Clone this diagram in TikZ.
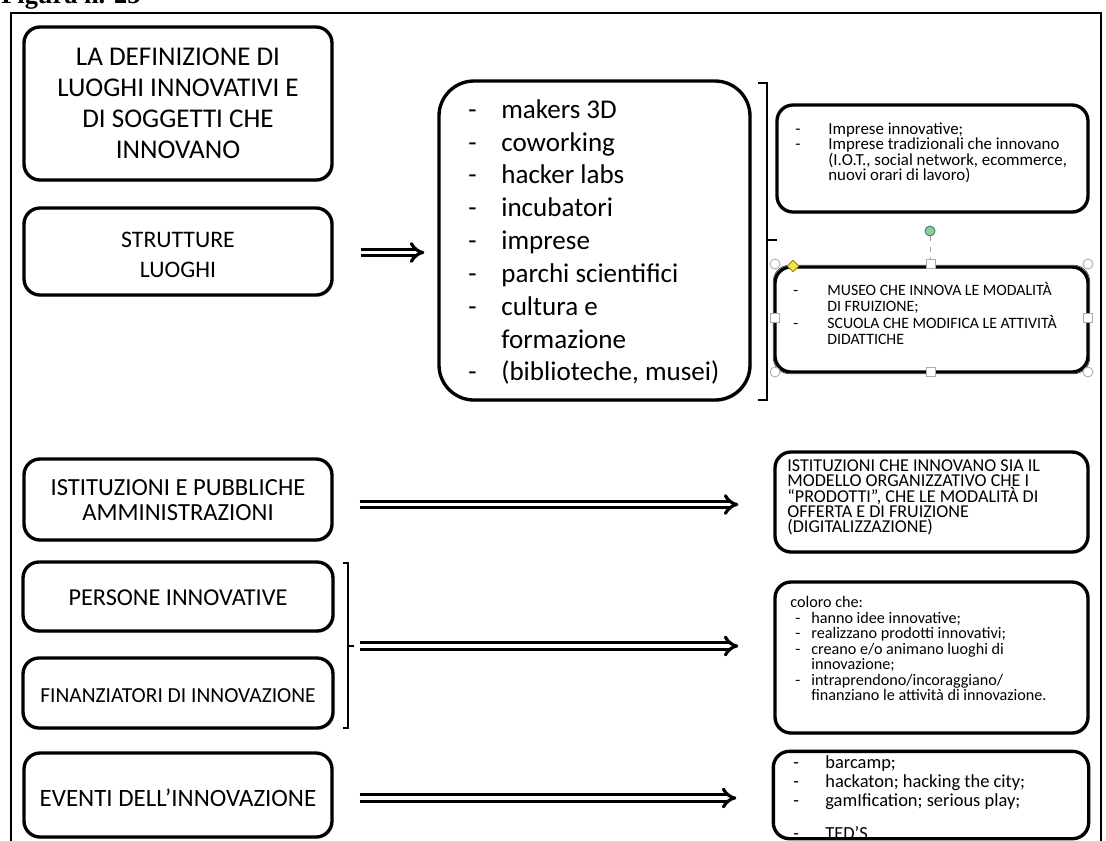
\documentclass[tikz,border=0pt]{standalone}
\usepackage{fontspec}
\setmainfont{Carlito}
\newfontfamily\figfont{Liberation Serif}
\usetikzlibrary{arrows.meta,fit,shadows,shapes.geometric}
\newlength\dashw
\newlength\dashoff
\setlength\dashoff{0pt}
% one dashed list entry with hanging indent
\newcommand\li[1]{\hangindent=\dashw\hangafter=1\noindent\makebox[\dashw][l]{\hspace*{\dashoff}-}#1\par}
\newcommand\tightspace{\spaceskip=.226em\relax\hyphenpenalty=10000\relax}
\begin{document}
\begin{tikzpicture}[x=0.02cm,y=-0.02cm,
  box/.style={draw=black,line width=1.9pt,rounded corners=0.32cm,fill=white,inner sep=0pt,
    drop shadow={opacity=0.35,shadow xshift=0.8pt,shadow yshift=-1pt}},
  ltext/.style={anchor=north,inner sep=0pt,align=center,text width=6cm,text=black,
    execute at begin node={\centering\tightspace}},
  listtext/.style={anchor=north west,inner sep=0pt,align=left,text=black},
  dbl/.style={line width=1.8pt,double=white,double distance=2pt,-{Implies}},
  bracket/.style={draw=black,line width=1.1pt},
  handlec/.style={circle,draw=gray!65,fill=white,line width=0.5pt,minimum size=0.2cm,inner sep=0pt},
  handles/.style={rectangle,draw=gray!65,fill=white,line width=0.5pt,minimum size=0.18cm,inner sep=0pt}
]
\useasboundingbox (0,0) rectangle (1106,840);

% caption, cut by the top edge
\node[anchor=base west,inner sep=0pt,font={\figfont\bfseries\fontsize{15}{17}\selectfont}] (fig) at (1,3) {Figura n. 25};

% outer frame
\draw[line width=1.2pt] (11,850) -- (11,13) -- (1101,13) -- (1101,850);

% left column
\node[box,fit={(24,27)(332,180)}] (title) {};
\node[ltext,font=\fontsize{15.4}{17.5}\selectfont] (titletxt) at (178,48)
  {LA DEFINIZIONE DI\par LUOGHI INNOVATIVI E\par DI SOGGETTI CHE\par INNOVANO\par};
\node[box,fit={(24,208)(332,295)}] (strutture) {};
\node[ltext,font=\fontsize{13.5}{17}\selectfont] (strutturetxt) at (178,232)
  {STRUTTURE\par LUOGHI\par};
\node[box,fit={(24,459)(332,540)}] (istl) {};
\node[ltext,font=\fontsize{14}{14.2}\selectfont] (istltxt) at (178,479)
  {ISTITUZIONI E PUBBLICHE\par AMMINISTRAZIONI\par};
\node[box,fit={(23,562)(333,631)}] (persone) {};
\node[ltext,font=\fontsize{13.8}{14.4}\selectfont] (personetxt) at (178,589)
  {PERSONE INNOVATIVE\par};
\node[box,fit={(23,658)(333,728)}] (finanz) {};
\node[ltext,font=\fontsize{12.2}{14}\selectfont] (finanztxt) at (178,688)
  {FINANZIATORI DI INNOVAZIONE\par};
\node[box,fit={(24,753)(332,837)}] (eventi) {};
\node[ltext,font=\fontsize{14.2}{14.4}\selectfont] (eventitxt) at (178,789)
  {EVENTI DELL’INNOVAZIONE\par};

% list of places
\node[box,rounded corners=0.7cm,fit={(439,81)(750,400)}] (mid) {};
\node[listtext,text width=5.6cm,font=\fontsize{15.4}{18.7}\selectfont] (midtxt) at (468,99)
  {\tightspace\setlength\dashw{0.66cm}%
   \li{makers 3D}\li{coworking}\li{hacker labs}\li{incubatori}\li{imprese}%
   \li{parchi scientifici}\li{cultura e\newline formazione}\li{(biblioteche, musei)}};

% right column
\node[box,fit={(777,105)(1088,212)}] (imprese) {};
\node[listtext,text width=5.9cm,font=\fontsize{9.6}{8.85}\selectfont] (impresetxt) at (795,122)
  {\tightspace\setlength\dashw{0.66cm}%
   \li{Imprese innovative;}\li{Imprese tradizionali che innovano\newline (I.O.T., social network, ecommerce,\newline nuovi orari di lavoro)}};

\node[box,fit={(775,267)(1088,372)}] (museo) {};
\draw[draw={rgb,255:red,70;green,85;blue,110},line width=0.5pt,rounded corners=0.32cm]
  (museo.north west) rectangle (museo.south east);
\node[listtext,text width=5.8cm,font=\fontsize{9}{9.35}\selectfont] (museotxt) at (793,282)
  {\tightspace\setlength\dashw{0.68cm}%
   \li{MUSEO CHE INNOVA LE MODALITÀ\newline DI FRUIZIONE;}\li{SCUOLA CHE MODIFICA LE ATTIVITÀ\newline DIDATTICHE}};

% selection handles round the museum box
\draw[gray!70,dashed,line width=0.5pt] (930,236) -- (930,261);
\node[circle,draw={rgb,255:red,60;green,130;blue,90},fill={rgb,255:red,140;green,205;blue,160},line width=0.5pt,minimum size=0.2cm,inner sep=0pt] (hrot) at (930,231) {};
\node[handlec] (hnw) at (775,264) {};
\node[handlec] (hne) at (1088,264) {};
\node[handlec] (hsw) at (775,372) {};
\node[handlec] (hse) at (1088,372) {};
\node[handles] (hn) at (931,264) {};
\node[handles] (hs) at (931,372) {};
\node[handles] (hw) at (775,318) {};
\node[handles] (he) at (1088,318) {};
\node[diamond,draw={rgb,255:red,150;green,130;blue,20},fill={rgb,255:red,245;green,230;blue,70},line width=0.5pt,minimum size=0.24cm,inner sep=0pt] (hadj) at (793,266) {};

\node[box,fit={(775,452)(1088,552)}] (istr) {};
\node[listtext,text width=6cm,font=\fontsize{10.3}{8.8}\selectfont] (istrtxt) at (787,459)
  {\tightspace ISTITUZIONI CHE INNOVANO SIA IL\\ MODELLO ORGANIZZATIVO CHE I\\ “PRODOTTI”, CHE LE MODALITÀ DI\\ OFFERTA E DI FRUIZIONE\\ (DIGITALIZZAZIONE)\par};

\node[box,fit={(775,582)(1088,733)}] (coloro) {};
\node[listtext,text width=6cm,font=\fontsize{9.2}{8.85}\selectfont] (colorotxt) at (790,596)
  {\tightspace\setlength\dashw{0.42cm}\setlength\dashoff{0.1cm}%
   coloro che:\par
   \li{hanno idee innovative;}\li{realizzano prodotti innovativi;}%
   \li{creano e/o animano luoghi di\newline innovazione;}%
   \li{intraprendono/incoraggiano/\newline finanziano le attività di innovazione.}};

\node[box,draw=none,fit={(775,753)(1087,837)}] (evr) {};
\node[listtext,text width=6cm,font=\fontsize{10.5}{10.8}\selectfont] (evrtxt) at (793,755)
  {\tightspace\setlength\dashw{0.64cm}%
   \li{barcamp;}\li{hackaton; hacking the city;}\li{gamIfication; serious play;}%
   \vspace{8pt}\li{TED'S}};
% the border of the last box runs over its overflowing text
\draw[line width=1.9pt,rounded corners=0.32cm] (evr.north west) rectangle (evr.south east);

% brackets
\draw[bracket] (758,83) -- (767,83) -- (767,400) -- (758,400);
\draw[bracket] (767,240) -- (777,240);
\draw[bracket] (343,563) -- (348,563) -- (348,728) -- (343,728);
\draw[bracket] (348,646) -- (354,646);
\coordinate (brk2) at (354,646);

% arrows
\coordinate (a1) at ([shift={(27,1)}]strutture.east);
\draw[dbl,shorten >=0.26cm] (a1) -- (a1 -| mid.west);
\coordinate (a2) at ([shift={(26,5)}]istl.east);
\draw[dbl,shorten >=0.7cm] (a2) -- (a2 -| istr.west);
\draw[dbl,shorten <=0.12cm,shorten >=0.7cm] (brk2) -- (brk2 -| coloro.west);
\coordinate (a4) at ([shift={(26,3)}]eventi.east);
\draw[dbl,shorten >=0.74cm] (a4) -- (a4 -| evr.west);
\end{tikzpicture}
\end{document}
